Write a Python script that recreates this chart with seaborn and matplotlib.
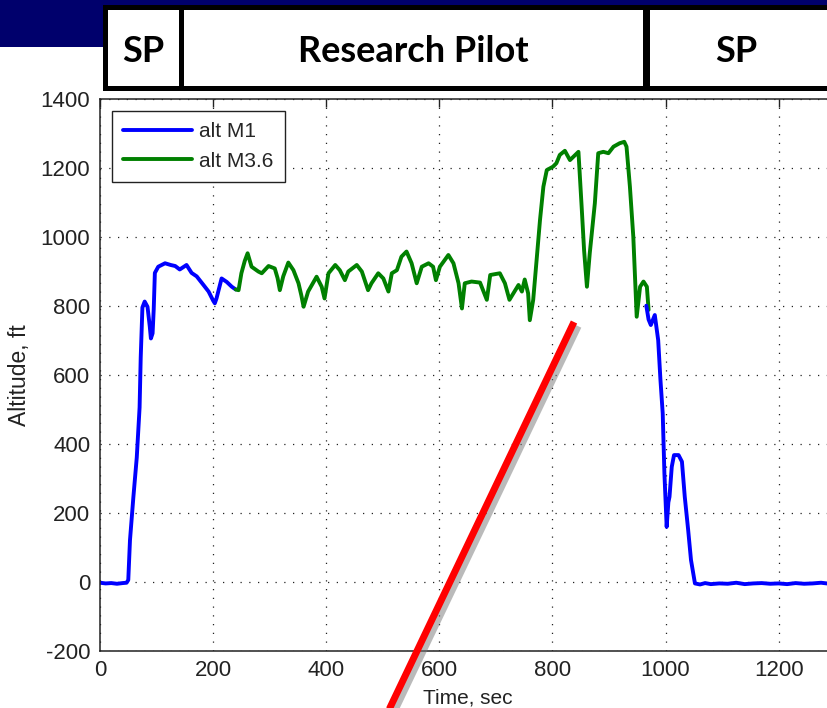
import matplotlib
matplotlib.use("Agg")
import matplotlib.pyplot as plt
import matplotlib.patheffects as pe
from matplotlib.lines import Line2D
from matplotlib.patches import Rectangle
import seaborn as sns
import pandas as pd

# ---------------- data ----------------
m1_time_a = [0, 10, 20, 30, 40, 47, 50, 53, 59, 65, 70, 72, 75, 79, 84, 88, 90, 93, 95, 97,
             103, 115, 125, 133, 141, 153, 162, 171, 183, 192, 200, 203, 206, 215, 224, 233, 240]
m1_alt_a = [-3, -5, -4, -6, -4, -3, 5, 120, 245, 360, 505, 650, 795, 812, 797, 740, 705, 720, 790, 895,
            913, 923, 918, 915, 905, 918, 895, 885, 860, 841, 815, 807, 821, 879, 869, 855, 847]

m36_time = [240, 245, 250, 256, 261, 268, 280, 286, 298, 309, 314, 318, 324, 333, 342, 351, 356, 360,
            368, 383, 392, 397, 404, 416, 424, 433, 439, 454, 463, 474, 480, 492, 501, 510, 516, 525,
            533, 542, 551, 560, 569, 581, 589, 594, 601, 616, 625, 634, 640, 645, 657, 672, 684, 690,
            707, 716, 724, 731, 740, 746, 751, 757, 760, 766, 772, 778, 784, 790, 801, 807, 813, 822,
            831, 846, 852, 856, 861, 866, 875, 881, 890, 899, 908, 919, 927, 931, 937, 943, 949, 955,
            961, 967, 970]
m36_alt = [847, 845, 894, 930, 952, 913, 899, 894, 915, 908, 880, 845, 885, 925, 903, 865, 830, 797,
           841, 884, 855, 821, 894, 918, 903, 874, 899, 918, 899, 845, 865, 894, 879, 841, 894, 903,
           942, 957, 923, 865, 913, 923, 913, 874, 913, 947, 923, 865, 792, 865, 870, 867, 817, 889,
           894, 865, 817, 836, 860, 841, 876, 836, 758, 817, 932, 1048, 1145, 1193, 1203, 1213, 1237, 1249,
           1222, 1246, 1077, 960, 855, 952, 1097, 1242, 1246, 1242, 1261, 1271, 1275, 1261, 1145, 1000, 768, 855,
           870, 855, 788]

m1_time_b = [966, 970, 974, 981, 987, 991, 995, 998, 1002, 1005, 1007, 1011, 1015, 1023, 1029, 1034,
             1040, 1045, 1052, 1061, 1070, 1080, 1095, 1110, 1125, 1140, 1155, 1170, 1185, 1200, 1215,
             1230, 1245, 1260, 1275, 1290, 1305, 1320, 1330]
m1_alt_b = [800, 760, 744, 773, 700, 585, 488, 314, 159, 230, 246, 333, 367, 367, 348, 246,
            150, 63, -5, -8, -4, -7, -5, -6, -3, -7, -5, -4, -6, -5, -7, -4, -6, -5, -3, -6, -5, -4, -5]

series_labels = ["alt M1", "alt M3.6"]
header_labels = ["SP", "Research Pilot", "SP"]
x_ticks = [0, 200, 400, 600, 800, 1000, 1200]
y_ticks = [-200, 0, 200, 400, 600, 800, 1000, 1200, 1400]

# ---------------- figure ----------------
W, H = 827, 708
sns.set_style("white")
plt.rcParams["font.family"] = ["Liberation Sans", "DejaVu Sans"]
plt.rcParams["axes.unicode_minus"] = False

fig = plt.figure(figsize=(W / 100, H / 100), dpi=100)
fig.patch.set_facecolor("white")

def fx(px):
    return px / W

def fy(py):
    return 1 - py / H

ax_left, ax_right, ax_top, ax_bottom = 100, 835.2, 98.7, 650.7
ax = fig.add_axes([fx(ax_left), fy(ax_bottom), (ax_right - ax_left) / W, (ax_bottom - ax_top) / H])

df_a = pd.DataFrame({"t": m1_time_a, "alt": m1_alt_a})
df_g = pd.DataFrame({"t": m36_time, "alt": m36_alt})
df_b = pd.DataFrame({"t": m1_time_b, "alt": m1_alt_b})

lw = 2.8
sns.lineplot(data=df_a, x="t", y="alt", color="#0000ff", lw=lw, ax=ax, label=series_labels[0],
             estimator=None, sort=False)
sns.lineplot(data=df_g, x="t", y="alt", color="#008000", lw=lw, ax=ax, label=series_labels[1],
             estimator=None, sort=False)
sns.lineplot(data=df_b, x="t", y="alt", color="#0000ff", lw=lw, ax=ax, label="_nolegend_",
             estimator=None, sort=False)

ax.set_xlim(0, 1300)
ax.set_ylim(-200, 1400)
ax.set_xticks(x_ticks)
ax.set_yticks(y_ticks)
ax.grid(True, linestyle=(0, (1, 6)), color="#222222", linewidth=0.9)
ax.set_axisbelow(True)
for s in ax.spines.values():
    s.set_visible(True)
    s.set_color("#222222")
    s.set_linewidth(1.1)
ax.tick_params(direction="in", length=6, width=1, top=True, right=True,
               labelsize=16, pad=7, colors="#222222")
ax.set_xlabel("Time, sec", fontsize=15, labelpad=5, color="#222222")
ax.set_ylabel("Altitude, ft", fontsize=16.5, labelpad=7, color="#222222")

leg = ax.legend(loc="upper left", bbox_to_anchor=(0.016, 0.978), fontsize=15, frameon=True,
                fancybox=False, edgecolor="#222222", framealpha=1, handlelength=3.3,
                handletextpad=0.35, borderpad=0.55, labelspacing=0.5, borderaxespad=0)
leg.get_frame().set_linewidth(1.0)
for line in leg.get_lines():
    line.set_linewidth(lw)

# ---------------- slide decorations ----------------
navy = "#00006c"
fig.add_artist(Rectangle((0, fy(5)), 1, fy(0) - fy(5), transform=fig.transFigure,
                         facecolor=navy, edgecolor="none", zorder=0))
fig.add_artist(Rectangle((0, fy(47)), fx(103), fy(0) - fy(47), transform=fig.transFigure,
                         facecolor=navy, edgecolor="none", zorder=0))
# header box: black frame + white cells
fig.add_artist(Rectangle((fx(103), fy(91)), fx(845) - fx(103), fy(5) - fy(91), transform=fig.transFigure,
                         facecolor="black", edgecolor="none", zorder=1))
cells = [(108, 179), (184, 643), (650, 840)]
for (c0, c1), lab in zip(cells, header_labels):
    fig.add_artist(Rectangle((fx(c0), fy(86)), fx(c1) - fx(c0), fy(10) - fy(86),
                             transform=fig.transFigure, facecolor="white", edgecolor="none", zorder=2))
text_centers = [143.5, 413, 736]
for cx, lab in zip(text_centers, header_labels):
    fig.text(fx(cx), fy(52), lab, ha="center", va="center", fontsize=26, fontweight="bold",
             family=["Lato", "DejaVu Sans"], color="black", zorder=3)

# red pointer line with shadow
red = Line2D([fx(574), fx(386)], [fy(322), fy(716)], transform=fig.transFigure,
             color="#ff0000", linewidth=5, solid_capstyle="butt", zorder=10,
             path_effects=[pe.SimpleLineShadow(offset=(3, -3), shadow_color="#777777", alpha=0.5),
                           pe.Normal()])
fig.add_artist(red)

fig.savefig("out.png", dpi=100)
